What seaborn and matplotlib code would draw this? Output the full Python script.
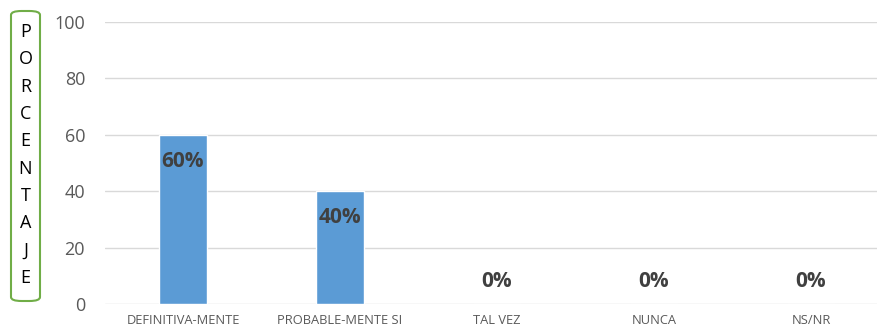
import matplotlib
matplotlib.use("Agg")
import matplotlib.pyplot as plt
import seaborn as sns
import pandas as pd
from matplotlib.patches import FancyBboxPatch

categories = ["DEFINITIVA-MENTE", "PROBABLE-MENTE SI", "TAL VEZ", "NUNCA", "NS/NR"]
values = [60, 40, 0, 0, 0]
labels = ["60%", "40%", "0%", "0%", "0%"]
yticks = [0, 20, 40, 60, 80, 100]

sns.set_theme(style="white")
plt.rcParams['font.family'] = ['Open Sans', 'DejaVu Sans']

W, H = 877, 330
df = pd.DataFrame({"cat": categories, "val": values})
fig = plt.figure(figsize=(8.77, 3.30), dpi=100)
ax = fig.add_axes([104.5 / W, 26 / H, 785 / W, 282 / H])
sns.barplot(data=df, x="cat", y="val", color="#5B9BD5", width=0.31, saturation=1, ax=ax, zorder=3)
ax.set_ylim(0, 100)
ax.set_yticks(yticks)
ax.set_yticklabels([str(t) for t in yticks], fontsize=13, color="#595959")
ax.tick_params(axis="x", labelsize=9.3, colors="#595959", length=0, pad=7)
ax.tick_params(axis="y", length=0, pad=14)
ax.grid(axis="y", color="#d9d9d9", linewidth=1, zorder=0)
for s in ax.spines.values():
    s.set_visible(False)
ax.set_xlabel("")
ax.set_ylabel("")

for i, (v, lab) in enumerate(zip(values, labels)):
    off = -19 if v > 0 else 16.5
    ax.annotate(lab, (i, v), xytext=(0, off), textcoords="offset points",
                ha="center", va="center", fontsize=15, fontweight="bold", color="#404040")

# vertical stacked y label in a green rounded box
box = FancyBboxPatch((11 / W, (H - 301) / H), 29 / W, 290 / H,
                     boxstyle="round,pad=0,rounding_size=0.012",
                     transform=fig.transFigure, facecolor="white",
                     edgecolor="#70AD47", linewidth=1.5)
fig.patches.append(box)
fig.text(25.5 / W, (H - 155) / H, "\n".join("PORCENTAJE"), ha="center", va="center",
         fontsize=13, color="black", linespacing=1.67)

fig.savefig("out.png", dpi=100)
